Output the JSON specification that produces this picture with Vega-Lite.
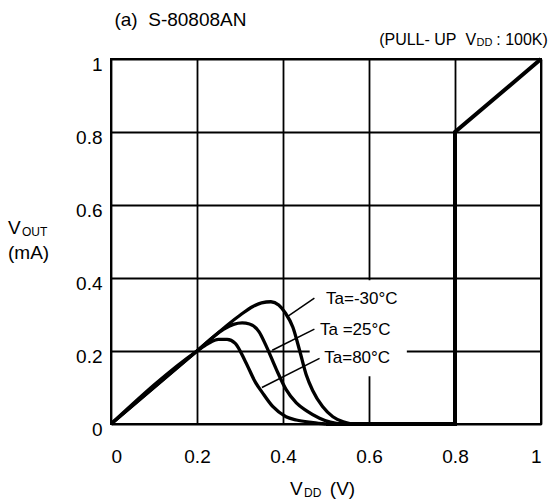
{
  "$schema": "https://vega.github.io/schema/vega-lite/v6.json",
  "width": 430,
  "height": 365,
  "autosize": {"type": "none"},
  "padding": {"left": 111, "top": 59, "right": 10, "bottom": 79},
  "background": "white",
  "config": {
    "view": {"stroke": "black", "strokeWidth": 2},
    "axis": {
      "domain": false,
      "ticks": false,
      "grid": true,
      "gridColor": "black",
      "gridOpacity": 1,
      "gridWidth": 1.8,
      "labelFont": "Liberation Sans",
      "labelFontSize": 19,
      "labelColor": "black",
      "title": null
    },
    "text": {"font": "Liberation Sans", "color": "black", "align": "left", "baseline": "middle"}
  },
  "datasets": {
    "curves": [
      {"v": 0, "i": 0, "series": "Ta=-30°C"},
      {"v": 0.2, "i": 0.2, "series": "Ta=-30°C"},
      {"v": 0.3, "i": 0.298, "series": "Ta=-30°C"},
      {"v": 0.33, "i": 0.322, "series": "Ta=-30°C"},
      {"v": 0.35, "i": 0.332, "series": "Ta=-30°C"},
      {"v": 0.372, "i": 0.335, "series": "Ta=-30°C"},
      {"v": 0.39, "i": 0.326, "series": "Ta=-30°C"},
      {"v": 0.405, "i": 0.305, "series": "Ta=-30°C"},
      {"v": 0.423, "i": 0.265, "series": "Ta=-30°C"},
      {"v": 0.439, "i": 0.2, "series": "Ta=-30°C"},
      {"v": 0.454, "i": 0.135, "series": "Ta=-30°C"},
      {"v": 0.469, "i": 0.092, "series": "Ta=-30°C"},
      {"v": 0.492, "i": 0.048, "series": "Ta=-30°C"},
      {"v": 0.516, "i": 0.02, "series": "Ta=-30°C"},
      {"v": 0.54, "i": 0.006, "series": "Ta=-30°C"},
      {"v": 0.56, "i": 0, "series": "Ta=-30°C"},
      {"v": 0, "i": 0, "series": "Ta=25°C"},
      {"v": 0.2, "i": 0.2, "series": "Ta=25°C"},
      {"v": 0.26, "i": 0.258, "series": "Ta=25°C"},
      {"v": 0.285, "i": 0.273, "series": "Ta=25°C"},
      {"v": 0.305, "i": 0.277, "series": "Ta=25°C"},
      {"v": 0.322, "i": 0.274, "series": "Ta=25°C"},
      {"v": 0.344, "i": 0.253, "series": "Ta=25°C"},
      {"v": 0.36, "i": 0.216, "series": "Ta=25°C"},
      {"v": 0.384, "i": 0.151, "series": "Ta=25°C"},
      {"v": 0.407, "i": 0.095, "series": "Ta=25°C"},
      {"v": 0.431, "i": 0.058, "series": "Ta=25°C"},
      {"v": 0.455, "i": 0.036, "series": "Ta=25°C"},
      {"v": 0.485, "i": 0.016, "series": "Ta=25°C"},
      {"v": 0.51, "i": 0.005, "series": "Ta=25°C"},
      {"v": 0.53, "i": 0, "series": "Ta=25°C"},
      {"v": 0, "i": 0, "series": "Ta=80°C"},
      {"v": 0.2, "i": 0.2, "series": "Ta=80°C"},
      {"v": 0.225, "i": 0.22, "series": "Ta=80°C"},
      {"v": 0.25, "i": 0.232, "series": "Ta=80°C"},
      {"v": 0.27, "i": 0.232, "series": "Ta=80°C"},
      {"v": 0.289, "i": 0.221, "series": "Ta=80°C"},
      {"v": 0.313, "i": 0.17, "series": "Ta=80°C"},
      {"v": 0.336, "i": 0.114, "series": "Ta=80°C"},
      {"v": 0.352, "i": 0.086, "series": "Ta=80°C"},
      {"v": 0.376, "i": 0.048, "series": "Ta=80°C"},
      {"v": 0.407, "i": 0.02, "series": "Ta=80°C"},
      {"v": 0.431, "i": 0.011, "series": "Ta=80°C"},
      {"v": 0.47, "i": 0.004, "series": "Ta=80°C"},
      {"v": 0.5, "i": 0, "series": "Ta=80°C"}
    ],
    "pullup": [
      {"v": 0.5, "i": 0},
      {"v": 0.8, "i": 0},
      {"v": 0.8, "i": 0.8},
      {"v": 1, "i": 1}
    ],
    "leaders": [
      {"v": 0.411, "i": 0.295, "series": "Ta=-30°C"},
      {"v": 0.473, "i": 0.345, "series": "Ta=-30°C"},
      {"v": 0.375, "i": 0.202, "series": "Ta=25°C"},
      {"v": 0.473, "i": 0.26, "series": "Ta=25°C"},
      {"v": 0.351, "i": 0.1, "series": "Ta=80°C"},
      {"v": 0.485, "i": 0.18, "series": "Ta=80°C"}
    ],
    "box": [{"v1": 0.462, "v2": 0.688, "i1": 0.131, "i2": 0.394}],
    "labels": [
      {"v": 0.5, "i": 0.342, "text": "Ta=-30°C"},
      {"v": 0.486, "i": 0.258, "text": "Ta =25°C"},
      {"v": 0.496, "i": 0.18, "text": "Ta=80°C"}
    ],
    "bigtext": [
      {"v": 0.008, "i": 1.108, "text": "(a)\u00a0\u00a0S-80808AN"},
      {"v": -0.2395, "i": 0.537, "text": "V"},
      {"v": -0.2395, "i": 0.468, "text": "(mA)"},
      {"v": 0.416, "i": -0.178, "text": "V"},
      {"v": 0.509, "i": -0.178, "text": "(V)"}
    ],
    "subtext": [
      {"v": -0.207, "i": 0.526, "text": "OUT"},
      {"v": 0.449, "i": -0.19, "text": "DD"}
    ],
    "notetext": [
      {"v": 0.849, "i": 1.052, "text": "(PULL-\u00a0UP\u00a0\u00a0V"},
      {"v": 1.016, "i": 1.052, "text": ": 100K)"}
    ],
    "notesub": [
      {"v": 0.85, "i": 1.045, "text": "DD"}
    ]
  },
  "layer": [
    {
      "data": {"name": "box"},
      "mark": {"type": "rect", "color": "white"},
      "encoding": {
        "x": {"field": "v1", "type": "quantitative",
              "scale": {"domain": [0, 1], "nice": false, "zero": false},
              "axis": {"values": [0, 0.2, 0.4, 0.6, 0.8, 1], "format": "~g", "labelPadding": 23, "labelBaseline": "top"}},
        "x2": {"field": "v2"},
        "y": {"field": "i1", "type": "quantitative",
              "scale": {"domain": [0, 1], "nice": false, "zero": false},
              "axis": {"values": [0, 0.2, 0.4, 0.6, 0.8, 1], "format": "~g", "labelPadding": 9, "labelOffset": 5}},
        "y2": {"field": "i2"}
      }
    },
    {
      "data": {"name": "curves"},
      "mark": {"type": "line", "color": "black", "strokeWidth": 3.3, "interpolate": "monotone"},
      "encoding": {
        "x": {"field": "v", "type": "quantitative"},
        "y": {"field": "i", "type": "quantitative"},
        "detail": {"field": "series"}
      }
    },
    {
      "data": {"name": "pullup"},
      "mark": {"type": "line", "color": "black", "strokeWidth": 4, "strokeJoin": "miter"},
      "encoding": {
        "x": {"field": "v", "type": "quantitative"},
        "y": {"field": "i", "type": "quantitative"},
        "order": {"value": 0}
      }
    },
    {
      "data": {"name": "leaders"},
      "mark": {"type": "line", "color": "black", "strokeWidth": 1.5},
      "encoding": {
        "x": {"field": "v", "type": "quantitative"},
        "y": {"field": "i", "type": "quantitative"},
        "detail": {"field": "series"}
      }
    },
    {
      "data": {"name": "labels"},
      "mark": {"type": "text", "fontSize": 17},
      "encoding": {
        "x": {"field": "v", "type": "quantitative"},
        "y": {"field": "i", "type": "quantitative"},
        "text": {"field": "text"}
      }
    },
    {
      "data": {"name": "bigtext"},
      "mark": {"type": "text", "fontSize": 19},
      "encoding": {
        "x": {"field": "v", "type": "quantitative"},
        "y": {"field": "i", "type": "quantitative"},
        "text": {"field": "text"}
      }
    },
    {
      "data": {"name": "subtext"},
      "mark": {"type": "text", "fontSize": 12},
      "encoding": {
        "x": {"field": "v", "type": "quantitative"},
        "y": {"field": "i", "type": "quantitative"},
        "text": {"field": "text"}
      }
    },
    {
      "data": {"name": "notetext"},
      "mark": {"type": "text", "fontSize": 16, "align": "right"},
      "encoding": {
        "x": {"field": "v", "type": "quantitative"},
        "y": {"field": "i", "type": "quantitative"},
        "text": {"field": "text"}
      }
    },
    {
      "data": {"name": "notesub"},
      "mark": {"type": "text", "fontSize": 11},
      "encoding": {
        "x": {"field": "v", "type": "quantitative"},
        "y": {"field": "i", "type": "quantitative"},
        "text": {"field": "text"}
      }
    }
  ]
}
